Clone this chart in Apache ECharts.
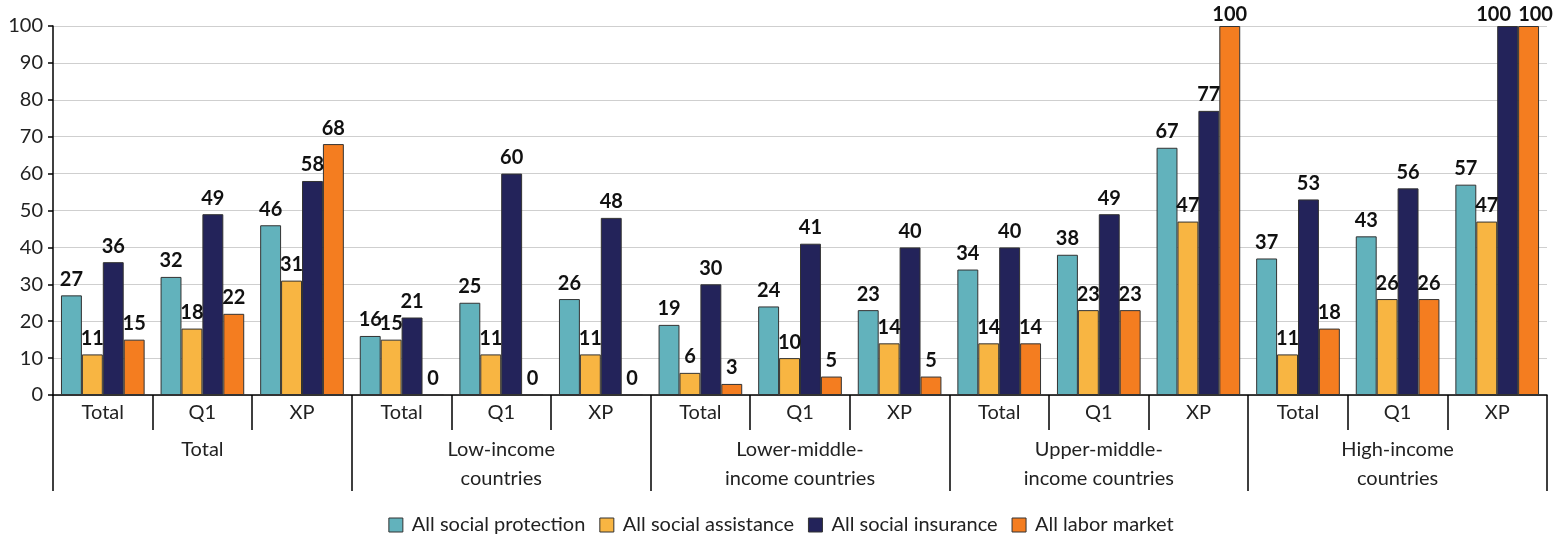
<!DOCTYPE html>
<html>
<head>
<meta charset="utf-8">
<script src="https://cdn.jsdelivr.net/npm/echarts@6/dist/echarts.min.js"></script>
<style>
  html, body { margin: 0; padding: 0; background: #fff; }
  #chart { width: 1562px; height: 536px; }
</style>
</head>
<body>
<div id="chart"></div>
<script>
// Sub-categories within each country group
const subCategories = ['Total', 'Q1', 'XP'];
// Country groups
const groups = ['Total', 'Low-income\ncountries', 'Lower-middle-\nincome countries', 'Upper-middle-\nincome countries', 'High-income\ncountries'];
// Y-axis range
const yTicks = { min: 0, max: 100, interval: 10 };

// Series values, one per (group, sub-category), in group order
const socialProtection = [27, 32, 46, 16, 25, 26, 19, 24, 23, 34, 38, 67, 37, 43, 57];
const socialAssistance = [11, 18, 31, 15, 11, 11, 6, 10, 14, 14, 23, 47, 11, 26, 47];
const socialInsurance  = [36, 49, 58, 21, 60, 48, 30, 41, 40, 40, 49, 77, 53, 56, 100];
const laborMarket      = [15, 22, 68, 0, 0, 0, 3, 5, 5, 14, 23, 100, 18, 26, 100];

const seriesNames = ['All social protection', 'All social assistance', 'All social insurance', 'All labor market'];
const seriesData = [socialProtection, socialAssistance, socialInsurance, laborMarket];
const colors = ['#62B2BC', '#F8B542', '#23235A', '#F47D20'];

// Value-label nudges [dx, dy] so labels stay on the canvas and don't collide
// (seriesIndex -> {dataIndex: [dx, dy]})
const labelNudge = {
  2: { 14: [-14, 5] },
  3: { 11: [0, 5], 14: [7, 5] }
};

const FONT = 'Lato';

const categories = [];
groups.forEach(() => subCategories.forEach(s => categories.push(s)));

const chart = echarts.init(document.getElementById('chart'), null, { renderer: 'canvas' });

chart.setOption({
  animation: false,
  textStyle: { fontFamily: FONT },
  color: colors,
  grid: { left: 53, right: 15, top: 26, bottom: 141, containLabel: false },
  legend: {
    top: 510,
    left: 'center',
    itemWidth: 14,
    itemHeight: 14,
    itemGap: 14,
    icon: 'rect',
    textStyle: { fontFamily: FONT, fontSize: 20, color: '#222', padding: [0, 0, 0, 4] },
    itemStyle: { borderColor: '#333', borderWidth: 1 },
    data: seriesNames
  },
  xAxis: [
    {
      type: 'category',
      data: categories,
      position: 'bottom',
      axisLine: { show: true, lineStyle: { color: '#000', width: 1.5 } },
      axisTick: { show: true, length: 35, interval: 0, lineStyle: { color: '#000', width: 1.5 } },
      axisLabel: { interval: 0, margin: 8, fontSize: 20, color: '#222', fontFamily: FONT },
      splitLine: { show: false }
    },
    {
      type: 'category',
      data: groups,
      position: 'bottom',
      axisLine: { show: false },
      axisTick: { show: true, length: 96, interval: 0, lineStyle: { color: '#000', width: 1.5 } },
      axisLabel: { interval: 0, margin: 40, fontSize: 20, lineHeight: 29, color: '#222', fontFamily: FONT },
      splitLine: { show: false }
    }
  ],
  yAxis: {
    type: 'value',
    min: yTicks.min,
    max: yTicks.max,
    interval: yTicks.interval,
    axisLine: { show: true, lineStyle: { color: '#000', width: 1.5 } },
    axisTick: { show: true, length: 5, lineStyle: { color: '#000', width: 1.5 } },
    axisLabel: { fontSize: 20, color: '#222', margin: 10, fontFamily: FONT },
    splitLine: { show: true, lineStyle: { color: '#cfcfcf', width: 1.2 } }
  },
  series: seriesNames.map((name, i) => ({
    name,
    type: 'bar',
    xAxisIndex: 0,
    data: seriesData[i].map((v, j) => {
      const off = labelNudge[i] && labelNudge[i][j];
      return off ? { value: v, label: { offset: off } } : v;
    }),
    barGap: '0%',
    barCategoryGap: '16%',
    itemStyle: { color: colors[i], borderColor: '#333', borderWidth: 1 },
    label: {
      show: true,
      position: 'top',
      distance: 6,
      fontSize: 20,
      fontWeight: 'bold',
      color: '#111',
      fontFamily: FONT
    }
  }))
});
</script>
</body>
</html>
